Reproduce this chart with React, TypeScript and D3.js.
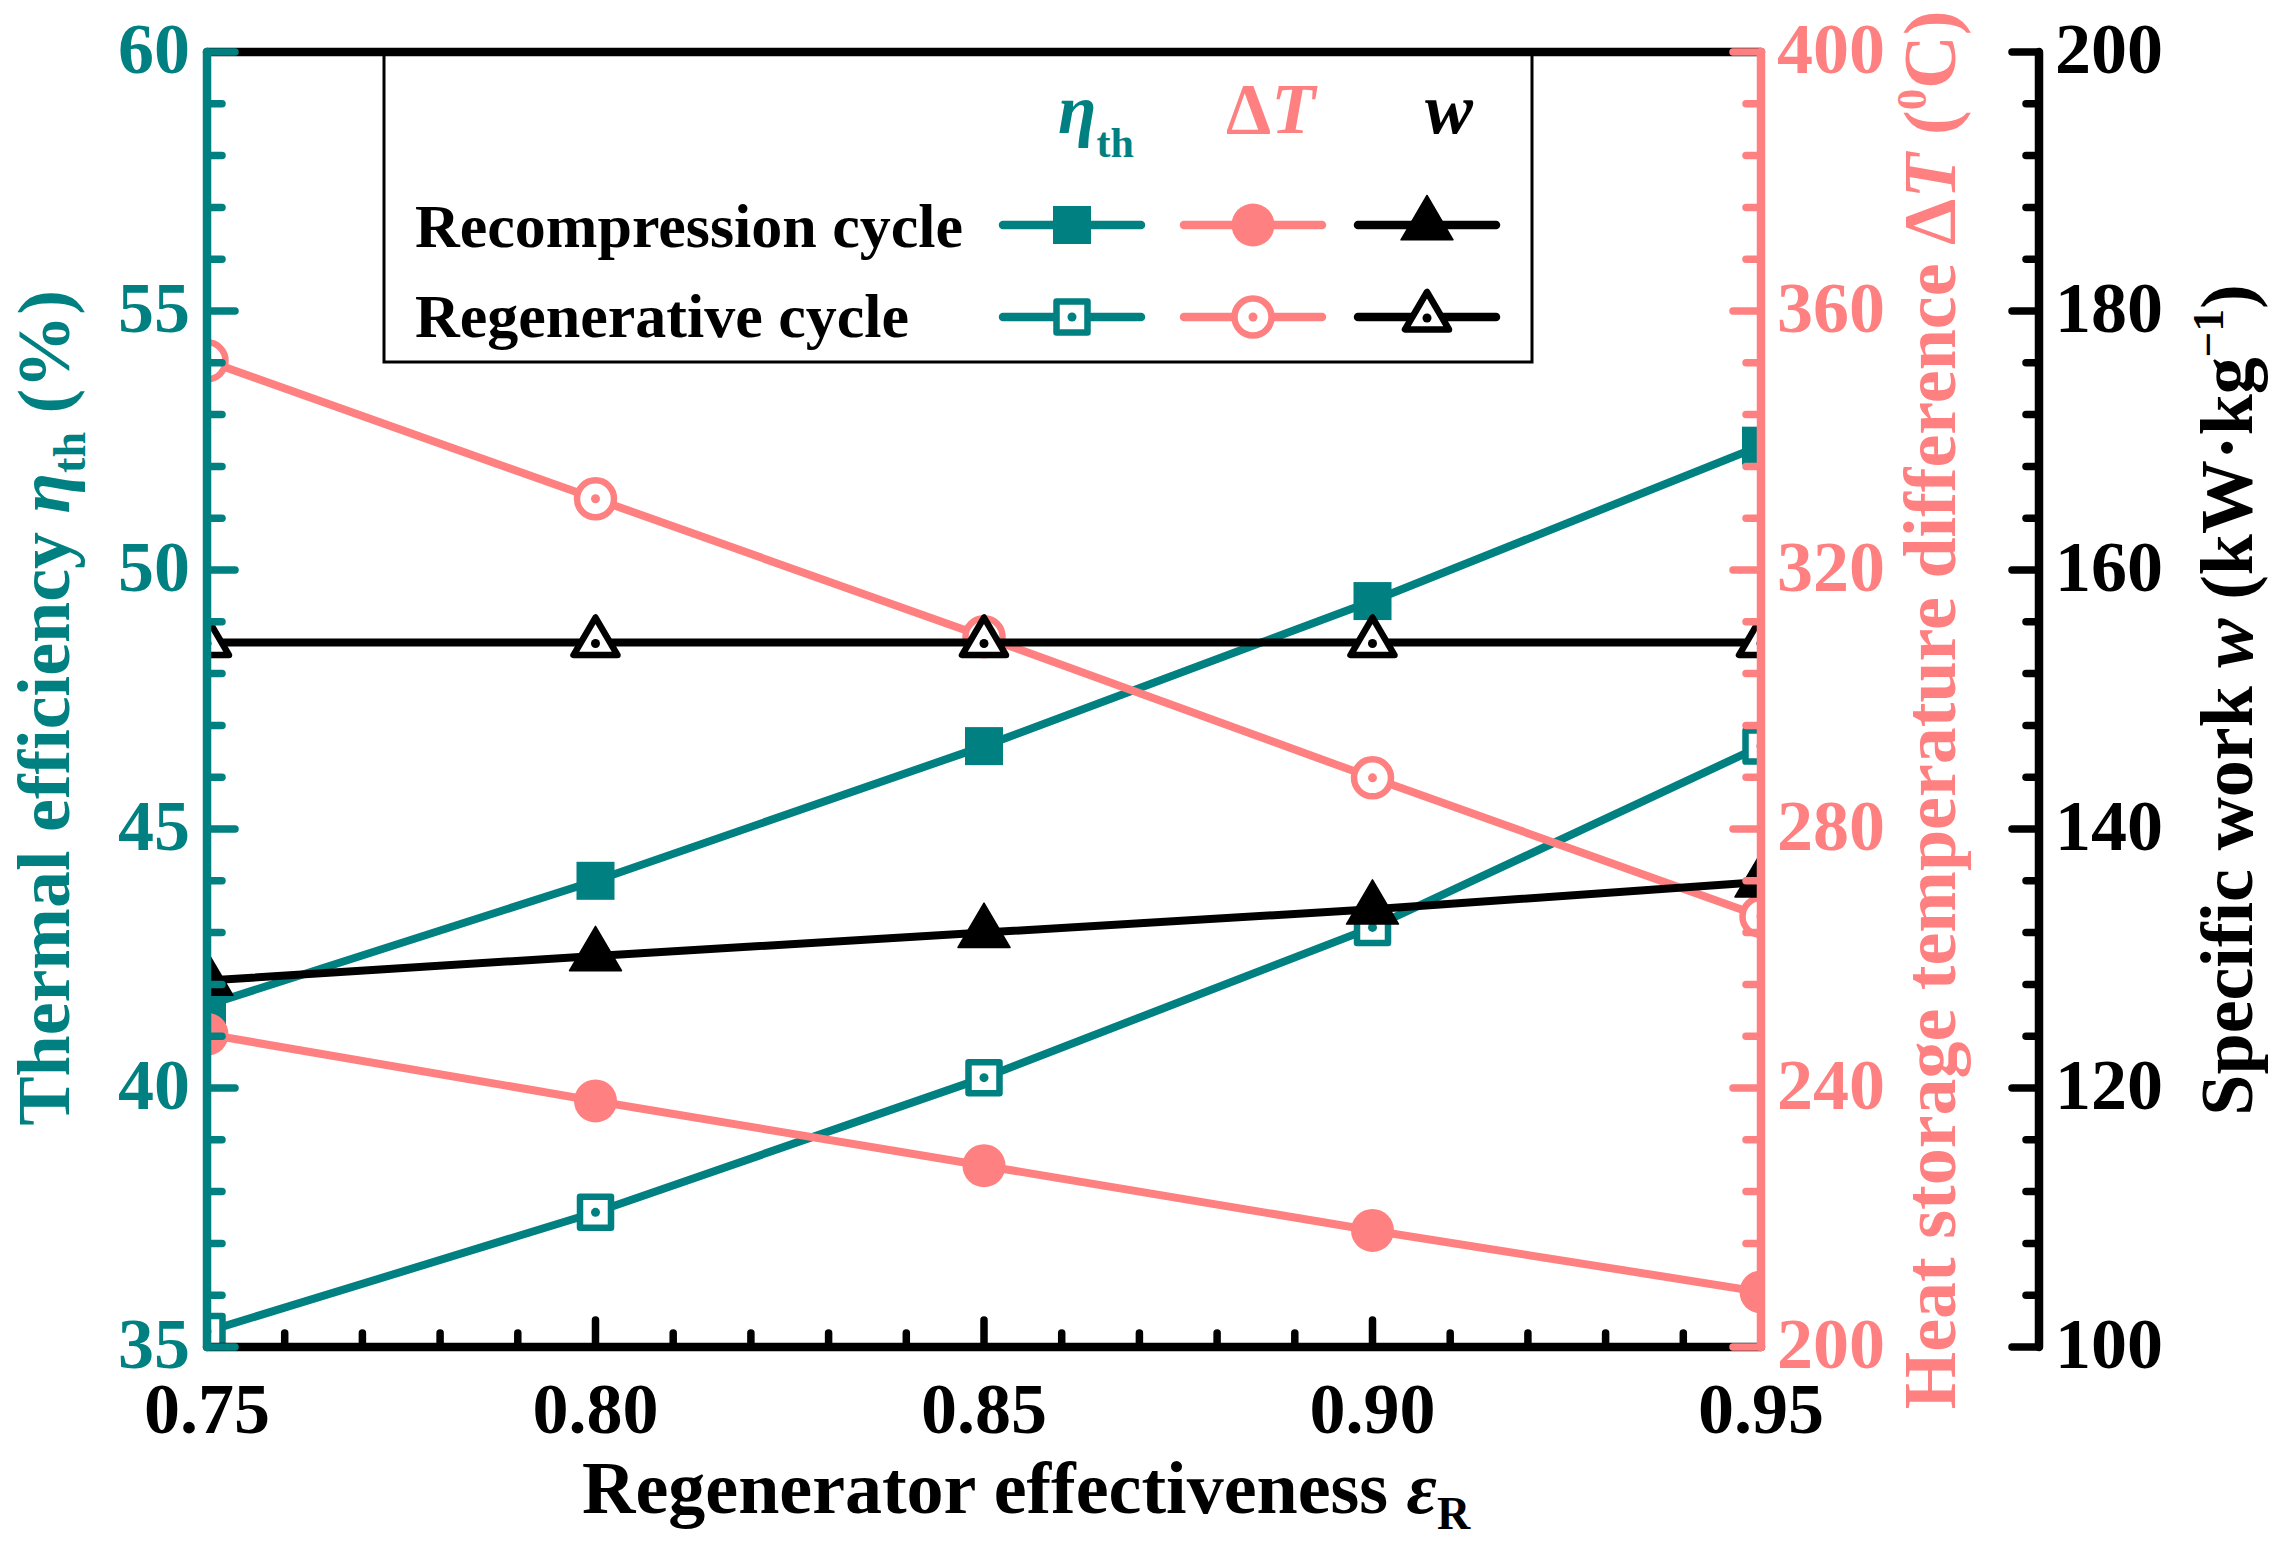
import React from 'react';
import * as d3 from 'd3';

// ---------- data ----------
const xValues = [0.75, 0.8, 0.85, 0.9, 0.95];
const etaRecompression = [41.6, 44.0, 46.6, 49.4, 52.4];
const etaRegenerative = [35.3, 37.6, 40.2, 43.1, 46.6];
const dTRecompression = [248.3, 238.0, 228.0, 218.0, 208.5];
const dTRegenerative = [352.3, 331.0, 309.7, 287.9, 266.5];
const wRecompression = [128.3, 130.2, 132.0, 133.8, 135.9];
const wRegenerative = [154.4, 154.4, 154.4, 154.4, 154.4];

const xTickLabels = ['0.75', '0.80', '0.85', '0.90', '0.95'];
const etaTicks = [35, 40, 45, 50, 55, 60];
const dTTicks = [200, 240, 280, 320, 360, 400];
const wTicks = [100, 120, 140, 160, 180, 200];

// ---------- style ----------
const TEAL = '#008080';
const PINK = '#FF8080';
const BLACK = '#000000';
const FONT = '"Liberation Serif", "Times New Roman", serif';

const W = 2281;
const H = 1556;
const L = 207;
const R = 1761;
const T = 52;
const B = 1347;
const AX3 = 2039;

const x = d3.scaleLinear().domain([0.75, 0.95]).range([L, R]);
const yEta = d3.scaleLinear().domain([35, 60]).range([B, T]);
const yDT = d3.scaleLinear().domain([200, 400]).range([B, T]);
const yW = d3.scaleLinear().domain([100, 200]).range([B, T]);

type Shape = 'square' | 'circle' | 'triangle';

function Marker({ shape, filled, color, cx, cy }: { shape: Shape; filled: boolean; color: string; cx: number; cy: number }) {
  if (shape === 'square') {
    if (filled) return <rect x={cx - 19} y={cy - 19} width={38} height={38} fill={color} />;
    return (
      <g>
        <rect x={cx - 15.5} y={cy - 15.5} width={31} height={31} fill="#fff" stroke={color} strokeWidth={6.5} strokeLinejoin="round" />
        <circle cx={cx} cy={cy} r={4.5} fill={color} />
      </g>
    );
  }
  if (shape === 'circle') {
    if (filled) return <circle cx={cx} cy={cy} r={21.5} fill={color} />;
    return (
      <g>
        <circle cx={cx} cy={cy} r={18.5} fill="#fff" stroke={color} strokeWidth={6.5} />
        <circle cx={cx} cy={cy} r={4.5} fill={color} />
      </g>
    );
  }
  if (filled) {
    const p = `M${cx},${cy - 29.5}L${cx - 26},${cy + 14.8}L${cx + 26},${cy + 14.8}Z`;
    return <path d={p} fill={color} stroke={color} strokeWidth={1.5} strokeLinejoin="round" />;
  }
  const p = `M${cx},${cy - 25}L${cx - 22},${cy + 12.5}L${cx + 22},${cy + 12.5}Z`;
  return (
    <g>
      <path d={p} fill="#fff" stroke={color} strokeWidth={6.5} strokeLinejoin="round" />
      <circle cx={cx} cy={cy + 1} r={4.5} fill={color} />
    </g>
  );
}

function Series({ values, scale, color, shape, filled }: { values: number[]; scale: d3.ScaleLinear<number, number>; color: string; shape: Shape; filled: boolean }) {
  const pts: [number, number][] = xValues.map((xv, i) => [x(xv), scale(values[i])]);
  const line = d3.line()(pts) || '';
  return (
    <g>
      <path d={line} fill="none" stroke={color} strokeWidth={8} />
      {pts.map(([cx, cy], i) => (
        <Marker key={i} shape={shape} filled={filled} color={color} cx={cx} cy={cy} />
      ))}
    </g>
  );
}

function LegendEntry({ cx, cy, color, shape, filled }: { cx: number; cy: number; color: string; shape: Shape; filled: boolean }) {
  return (
    <g>
      <line x1={cx - 69} x2={cx + 69} y1={cy} y2={cy} stroke={color} strokeWidth={8.5} strokeLinecap="round" />
      <Marker shape={shape} filled={filled} color={color} cx={cx} cy={cy} />
    </g>
  );
}

export default function App() {
  const xMinor = d3.range(76, 95).map((v) => v / 100).filter((v) => Math.round(v * 100) % 5 !== 0);
  const etaMinor = d3.range(36, 60).filter((v) => v % 5 !== 0);
  const dTMinor = d3.range(208, 400, 8).filter((v) => v % 40 !== 0);
  const wMinor = d3.range(104, 200, 4).filter((v) => v % 20 !== 0);

  const tickStyle = { strokeLinecap: 'round' as const, strokeWidth: 7.5 };

  return (
    <svg
      width={W}
      height={H}
      viewBox={`0 0 ${W} ${H}`}
      style={{ position: 'absolute', left: 0, top: 0, background: '#fff' }}
      fontFamily={FONT}
      fontWeight="bold"
    >
      <rect x={0} y={0} width={W} height={H} fill="#fff" />
      <defs>
        <clipPath id="plotClip">
          <rect x={L} y={T} width={R - L} height={B - T} />
        </clipPath>
      </defs>

      {/* data */}
      <g clipPath="url(#plotClip)">
        <Series values={etaRecompression} scale={yEta} color={TEAL} shape="square" filled />
        <Series values={etaRegenerative} scale={yEta} color={TEAL} shape="square" filled={false} />
        <Series values={dTRecompression} scale={yDT} color={PINK} shape="circle" filled />
        <Series values={dTRegenerative} scale={yDT} color={PINK} shape="circle" filled={false} />
        <Series values={wRecompression} scale={yW} color={BLACK} shape="triangle" filled />
        <Series values={wRegenerative} scale={yW} color={BLACK} shape="triangle" filled={false} />
      </g>

      {/* legend */}
      <g>
        <rect x={384} y={T} width={1532 - 384} height={362 - T} fill="none" stroke={BLACK} strokeWidth={3} />
        <text x={1058} y={133} fontSize={70} fill={TEAL}>
          <tspan fontStyle="italic">η</tspan>
          <tspan fontSize={42} dy={24}>th</tspan>
        </text>
        <text x={1226} y={133} fontSize={72} fill={PINK}>
          Δ<tspan fontStyle="italic">T</tspan>
        </text>
        <text x={1425} y={133} fontSize={72} fill={BLACK} fontStyle="italic">
          w
        </text>
        <text x={415} y={247} fontSize={62} fill={BLACK}>
          Recompression cycle
        </text>
        <text x={415} y={337} fontSize={62} fill={BLACK}>
          Regenerative cycle
        </text>
        <LegendEntry cx={1072} cy={225} color={TEAL} shape="square" filled />
        <LegendEntry cx={1253} cy={225} color={PINK} shape="circle" filled />
        <LegendEntry cx={1427} cy={225} color={BLACK} shape="triangle" filled />
        <LegendEntry cx={1072} cy={317} color={TEAL} shape="square" filled={false} />
        <LegendEntry cx={1253} cy={317} color={PINK} shape="circle" filled={false} />
        <LegendEntry cx={1427} cy={317} color={BLACK} shape="triangle" filled={false} />
      </g>

      {/* x axes */}
      <line x1={L} x2={R} y1={T} y2={T} stroke={BLACK} strokeWidth={8.5} strokeLinecap="round" />
      <line x1={L} x2={R} y1={B} y2={B} stroke={BLACK} strokeWidth={8.5} strokeLinecap="round" />
      {xMinor.map((v) => (
        <line key={v} x1={x(v)} x2={x(v)} y1={B} y2={B - 14} stroke={BLACK} {...tickStyle} />
      ))}
      {xValues.map((v) => (
        <line key={v} x1={x(v)} x2={x(v)} y1={B} y2={B - 27} stroke={BLACK} {...tickStyle} />
      ))}
      {xValues.map((v, i) => (
        <text key={v} x={x(v)} y={1433} fontSize={72} textAnchor="middle" fill={BLACK}>
          {xTickLabels[i]}
        </text>
      ))}
      <text x={582} y={1513} fontSize={74} fill={BLACK}>
        Regenerator effectiveness <tspan fontStyle="italic">ε</tspan>
        <tspan fontSize={46} dy={16}>R</tspan>
      </text>

      {/* left axis: efficiency */}
      <line x1={L} x2={L} y1={T} y2={B} stroke={TEAL} strokeWidth={8.5} strokeLinecap="round" />
      {etaMinor.map((v) => (
        <line key={v} x1={L} x2={L + 15} y1={yEta(v)} y2={yEta(v)} stroke={TEAL} {...tickStyle} />
      ))}
      {etaTicks.map((v) => (
        <line key={v} x1={L} x2={L + 28} y1={yEta(v)} y2={yEta(v)} stroke={TEAL} {...tickStyle} />
      ))}
      {etaTicks.map((v) => (
        <text key={v} x={190} y={yEta(v) + 21} fontSize={72} textAnchor="end" fill={TEAL}>
          {v}
        </text>
      ))}
      <text transform={`translate(69, 708) rotate(-90)`} fontSize={74} textAnchor="middle" fill={TEAL}>
        Thermal efficiency <tspan fontStyle="italic">η</tspan>
        <tspan fontSize={46} dy={16}>th</tspan>
        <tspan dy={-16}> (%)</tspan>
      </text>

      {/* right axis: temperature difference */}
      <line x1={R} x2={R} y1={T} y2={B} stroke={PINK} strokeWidth={8.5} strokeLinecap="round" />
      {dTMinor.map((v) => (
        <line key={v} x1={R} x2={R - 15} y1={yDT(v)} y2={yDT(v)} stroke={PINK} {...tickStyle} />
      ))}
      {dTTicks.map((v) => (
        <line key={v} x1={R} x2={R - 28} y1={yDT(v)} y2={yDT(v)} stroke={PINK} {...tickStyle} />
      ))}
      {dTTicks.map((v) => (
        <text key={v} x={1777} y={yDT(v) + 21} fontSize={72} fill={PINK}>
          {v}
        </text>
      ))}
      <text transform={`translate(1955, 710) rotate(-90)`} fontSize={74} textAnchor="middle" fill={PINK}>
        Heat storage temperature difference Δ<tspan fontStyle="italic">T</tspan>
        <tspan> (</tspan>
        <tspan fontSize={43} dy={-29}>0</tspan>
        <tspan dy={29}>C)</tspan>
      </text>

      {/* third axis: specific work */}
      <line x1={AX3} x2={AX3} y1={T} y2={B} stroke={BLACK} strokeWidth={8.5} strokeLinecap="round" />
      {wMinor.map((v) => (
        <line key={v} x1={AX3} x2={AX3 - 13} y1={yW(v)} y2={yW(v)} stroke={BLACK} {...tickStyle} />
      ))}
      {wTicks.map((v) => (
        <line key={v} x1={AX3} x2={AX3 - 27} y1={yW(v)} y2={yW(v)} stroke={BLACK} {...tickStyle} />
      ))}
      {wTicks.map((v) => (
        <text key={v} x={2055} y={yW(v) + 21} fontSize={72} fill={BLACK}>
          {v}
        </text>
      ))}
      <text transform={`translate(2252, 700) rotate(-90)`} fontSize={74} textAnchor="middle" fill={BLACK}>
        Specific work <tspan fontStyle="italic">w</tspan>
        <tspan> (kW·kg</tspan>
        <tspan fontSize={45} dy={-29}>−1</tspan>
        <tspan dy={29}>)</tspan>
      </text>
    </svg>
  );
}
